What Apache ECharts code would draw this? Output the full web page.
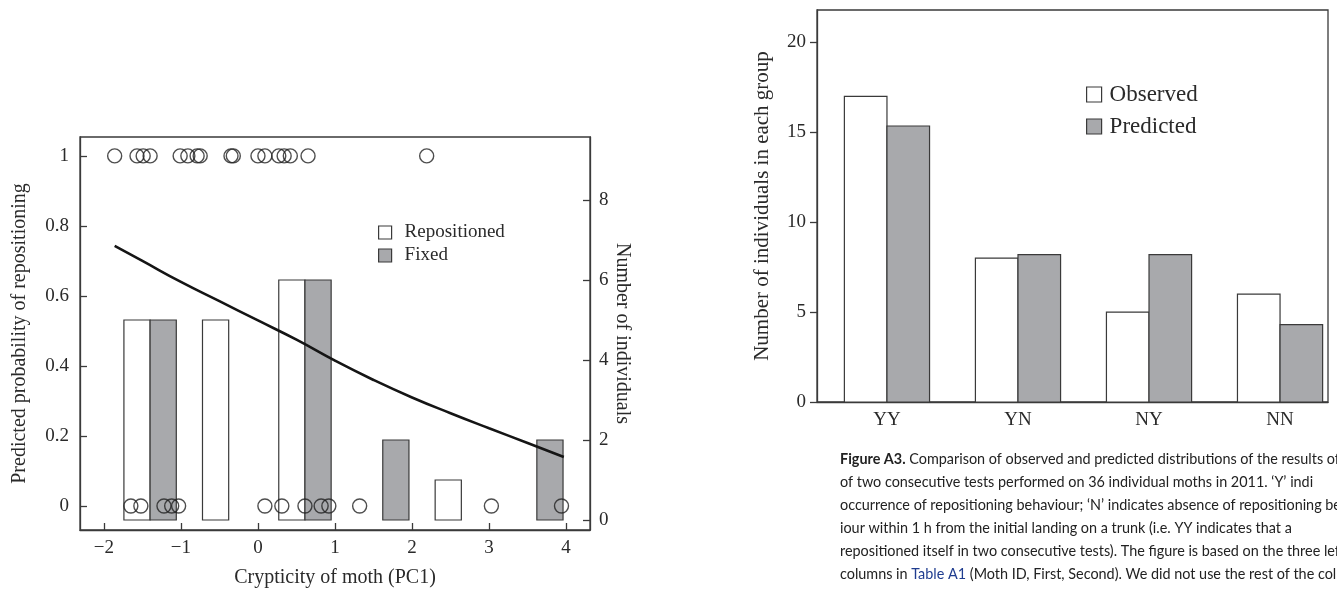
<!DOCTYPE html>
<html><head><meta charset="utf-8">
<script src="https://cdn.jsdelivr.net/npm/echarts@6/dist/echarts.min.js"></script>
<style>html,body{margin:0;padding:0;background:#fff}#c{width:1337px;height:594px}</style>
</head><body><div id="c"></div>
<script>
// ---- Left chart data ----
const binCenters = [-1.40, -0.38, 0.61, 1.62, 2.64, 3.62];
const repositionedCounts = [5, 5, 6, 0, 1, 0];
const fixedCounts = [5, 0, 6, 2, 0, 2];
const repositionedPC1 = [-1.86, -1.57, -1.49, -1.40, -1.01, -0.91, -0.79, -0.75, -0.35, -0.32, 0.00, 0.09, 0.27, 0.34, 0.42, 0.65, 2.19];
const fixedPC1 = [-1.65, -1.52, -1.22, -1.12, -1.03, 0.09, 0.31, 0.61, 0.82, 0.92, 1.32, 3.03, 3.94];
const curvePC1 = [-1.86, -1.5, -1.0, -0.5, 0, 0.5, 1.0, 1.5, 2.0, 2.5, 3.0, 3.5, 3.97];
const curveProb = [0.743, 0.70, 0.64, 0.585, 0.53, 0.475, 0.415, 0.36, 0.31, 0.265, 0.222, 0.18, 0.14];
const leftXTicks = [-2, -1, 0, 1, 2, 3, 4];
const leftYTicks = [0, 0.2, 0.4, 0.6, 0.8, 1];
const rightYTicks = [0, 2, 4, 6, 8];

// ---- Right chart data ----
const groups = ['YY', 'YN', 'NY', 'NN'];
const groupPos = [1, 2, 3, 4];
const observed = [17, 8, 5, 6];
const predicted = [15.35, 8.2, 8.2, 4.3];
const countTicks = [0, 5, 10, 15, 20];

// ---- Caption ----
const captionLines = [
  '{b|Figure A3.} Comparison of observed and predicted distributions of the results of',
  'of two consecutive tests performed on 36 individual moths in 2011. \u2018Y\u2019 indi',
  'occurrence of repositioning behaviour; \u2018N\u2019 indicates absence of repositioning be',
  'iour within 1 h from the initial landing on a trunk (i.e. YY indicates that a',
  'repositioned itself in two consecutive tests). The figure is based on the three left-',
  'columns in {blue|Table A1} (Moth ID, First, Second). We did not use the rest of the colum'
];

const SERIF = '"Liberation Serif", "DejaVu Serif", serif';
const SANS = 'Lato, "Noto Sans", sans-serif';
const INK = '#2a2a2a';
const GREY = '#a8a9ac';
const FRAME = '#3a3a3a';

function rectRenderer(side, w, fill){
  return function(params, api){
    const c = api.value(0), h = api.value(1);
    if (!h) return null;
    const x0 = side < 0 ? c - w : c;
    const x1 = side < 0 ? c : c + w;
    const p0 = api.coord([x0, h]);
    const p1 = api.coord([x1, 0]);
    return {type:'rect', shape:{x:p0[0], y:p0[1], width:p1[0]-p0[0], height:p1[1]-p0[1]},
      style:{fill:fill, stroke:FRAME, lineWidth:1.2}};
  };
}

const chart = echarts.init(document.getElementById('c'), null, {renderer:'canvas'});
const tickLabel = {fontFamily:SERIF, fontSize:19, color:INK};
const axLine = {show:true, onZero:false, lineStyle:{color:FRAME, width:1.3}};

chart.setOption({
  animation:false,
  backgroundColor:'#fff',
  grid:[
    {left:80, top:137, width:510, height:393, show:true, borderColor:FRAME, borderWidth:1.3, backgroundColor:'transparent'},
    {left:817, top:10, width:511, height:392, show:true, borderColor:FRAME, borderWidth:1.3, backgroundColor:'transparent'}
  ],
  legend:[
    {left:373, top:218, orient:'vertical', itemWidth:13, itemHeight:13, itemGap:4, selectedMode:false,
     textStyle:{fontFamily:SERIF, fontSize:19, color:INK, padding:[0,0,0,8]},
     data:[{name:'Repositioned', icon:'rect', itemStyle:{color:'#fff', borderColor:FRAME, borderWidth:1.2}},
           {name:'Fixed', icon:'rect', itemStyle:{color:GREY, borderColor:FRAME, borderWidth:1.2}}]},
    {left:1081, top:78, orient:'vertical', itemWidth:15, itemHeight:15, itemGap:9, selectedMode:false,
     textStyle:{fontFamily:SERIF, fontSize:23, color:INK, padding:[0,0,0,3]},
     data:[{name:'Observed', icon:'rect', itemStyle:{color:'#fff', borderColor:FRAME, borderWidth:1.2}},
           {name:'Predicted', icon:'rect', itemStyle:{color:GREY, borderColor:FRAME, borderWidth:1.2}}]}
  ],
  xAxis:[
    {type:'value', gridIndex:0, min:-2.31, max:4.31,
     axisLine:axLine,
     axisTick:{show:true, inside:true, length:7, customValues:leftXTicks, lineStyle:{color:FRAME, width:1.3}},
     axisLabel:Object.assign({margin:9, customValues:leftXTicks, formatter:v=> (v<0?'\u2212'+Math.abs(v):String(v))}, tickLabel),
     splitLine:{show:false},
     name:'Crypticity of moth (PC1)', nameLocation:'middle', nameGap:38,
     nameTextStyle:{fontFamily:SERIF, fontSize:20, color:INK}},
    {type:'value', gridIndex:1, min:0.466, max:4.366,
     axisLine:axLine,
     axisTick:{show:false},
     axisLabel:Object.assign({margin:9, customValues:groupPos, formatter:v=>groups[groupPos.indexOf(Math.round(v))] || ''}, tickLabel),
     splitLine:{show:false}}
  ],
  yAxis:[
    {type:'value', gridIndex:0, min:-0.0686, max:1.054,
     axisLine:axLine,
     axisTick:{show:true, inside:true, length:7, customValues:leftYTicks, lineStyle:{color:FRAME, width:1.3}},
     axisLabel:Object.assign({margin:11, customValues:leftYTicks, formatter:v=>String(Math.round(v*10)/10)}, tickLabel),
     splitLine:{show:false},
     name:'Predicted probability of repositioning', nameLocation:'middle', nameGap:50, nameRotate:90,
     nameTextStyle:{fontFamily:SERIF, fontSize:20, color:INK}},
    {type:'value', gridIndex:0, position:'right', min:-0.25, max:9.575,
     axisLine:axLine,
     axisTick:{show:true, inside:true, length:7, customValues:rightYTicks, lineStyle:{color:FRAME, width:1.3}},
     axisLabel:Object.assign({margin:9, customValues:rightYTicks}, tickLabel),
     splitLine:{show:false},
     name:'Number of individuals', nameLocation:'middle', nameGap:13, nameRotate:-90,
     nameTextStyle:{fontFamily:SERIF, fontSize:20, color:INK}},
    {type:'value', gridIndex:1, min:0, max:21.8,
     axisLine:axLine,
     axisTick:{show:true, inside:false, length:7, customValues:countTicks, lineStyle:{color:FRAME, width:1.3}},
     axisLabel:Object.assign({margin:11, customValues:countTicks}, tickLabel),
     splitLine:{show:false},
     name:'Number of individuals in each group', nameLocation:'middle', nameGap:44, nameRotate:90,
     nameTextStyle:{fontFamily:SERIF, fontSize:21, color:INK}}
  ],
  series:[
    {name:'Repositioned', type:'custom', xAxisIndex:0, yAxisIndex:1, clip:false,
     renderItem:rectRenderer(-1, 0.34, '#fff'),
     itemStyle:{color:'#fff', borderColor:FRAME},
     data:binCenters.map((c,i)=>[c, repositionedCounts[i]]), z:2},
    {name:'Fixed', type:'custom', xAxisIndex:0, yAxisIndex:1, clip:false,
     renderItem:rectRenderer(1, 0.34, GREY),
     itemStyle:{color:GREY, borderColor:FRAME},
     data:binCenters.map((c,i)=>[c, fixedCounts[i]]), z:2},
    {name:'repos-points', type:'scatter', xAxisIndex:0, yAxisIndex:0, symbol:'circle', symbolSize:14, clip:false,
     itemStyle:{color:'rgba(0,0,0,0)', borderColor:'#222', borderWidth:1.4},
     data:repositionedPC1.map(x=>[x,1]), z:4},
    {name:'fixed-points', type:'scatter', xAxisIndex:0, yAxisIndex:0, symbol:'circle', symbolSize:14, clip:false,
     itemStyle:{color:'rgba(0,0,0,0)', borderColor:'#222', borderWidth:1.4},
     data:fixedPC1.map(x=>[x,0]), z:4},
    {name:'curve', type:'line', xAxisIndex:0, yAxisIndex:0, smooth:true, showSymbol:false, symbol:'none',
     lineStyle:{color:'#151515', width:2.6}, data:curvePC1.map((x,i)=>[x, curveProb[i]]), z:5},
    {name:'Observed', type:'custom', xAxisIndex:1, yAxisIndex:2, clip:false,
     renderItem:rectRenderer(-1, 0.325, '#fff'),
     itemStyle:{color:'#fff', borderColor:FRAME},
     data:groupPos.map((p,i)=>[p, observed[i]]), z:2},
    {name:'Predicted', type:'custom', xAxisIndex:1, yAxisIndex:2, clip:false,
     renderItem:rectRenderer(1, 0.325, GREY),
     itemStyle:{color:GREY, borderColor:FRAME},
     data:groupPos.map((p,i)=>[p, predicted[i]]), z:2}
  ],
  graphic: captionLines.map((t,i)=>({
    type:'text', left:840, top:452 + i*23, silent:true,
    style:{text:t, fontFamily:SANS, fontSize:14.4, fill:'#222',
      rich:{b:{fontWeight:'bold', fontFamily:SANS, fontSize:14.4, fill:'#222'},
            blue:{fill:'#1f3c8f', fontFamily:SANS, fontSize:14.4}}}
  }))
});
</script></body></html>
